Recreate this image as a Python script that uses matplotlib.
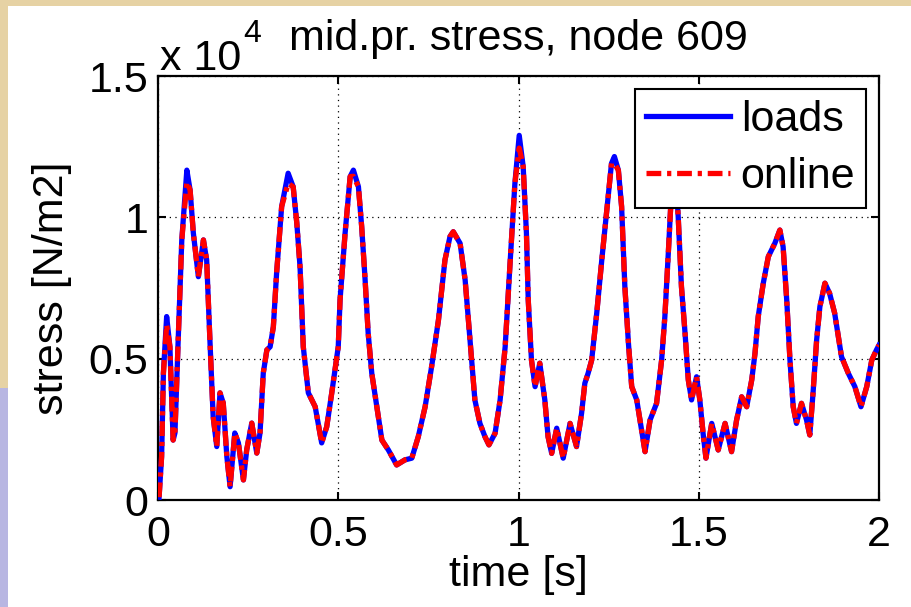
import matplotlib
matplotlib.use("Agg")
import matplotlib.pyplot as plt
from matplotlib.patches import Rectangle

plt.rcParams["font.family"] = ["Liberation Sans", "DejaVu Sans"]

# stress at node 609, N/m2
time_s = [
    0.003, 0.010, 0.015, 0.024, 0.033, 0.042, 0.047, 0.056, 0.066, 0.080,
    0.089, 0.098, 0.112, 0.126, 0.135, 0.144, 0.153, 0.163, 0.172, 0.181,
    0.191, 0.200, 0.213, 0.223, 0.237, 0.246, 0.260, 0.274, 0.283, 0.292,
    0.302, 0.311, 0.320, 0.329, 0.343, 0.361, 0.375, 0.385, 0.394, 0.403,
    0.417, 0.436, 0.454, 0.468, 0.482, 0.500, 0.505, 0.519, 0.533, 0.542,
    0.556, 0.565, 0.574, 0.583, 0.593, 0.607, 0.621, 0.639, 0.662, 0.685,
    0.704, 0.722, 0.741, 0.759, 0.778, 0.796, 0.810, 0.819, 0.838, 0.852,
    0.861, 0.870, 0.879, 0.893, 0.907, 0.918, 0.935, 0.949, 0.963, 0.976,
    0.990, 1.002, 1.013, 1.022, 1.027, 1.036, 1.046, 1.059, 1.073, 1.082,
    1.092, 1.106, 1.124, 1.143, 1.161, 1.175, 1.184, 1.193, 1.203, 1.217,
    1.231, 1.245, 1.258, 1.266, 1.277, 1.286, 1.295, 1.305, 1.314, 1.328,
    1.337, 1.351, 1.365, 1.383, 1.397, 1.406, 1.416, 1.425, 1.434, 1.443,
    1.452, 1.462, 1.471, 1.480, 1.494, 1.503, 1.512, 1.520, 1.536, 1.554,
    1.573, 1.591, 1.605, 1.619, 1.633, 1.647, 1.656, 1.665, 1.679, 1.693,
    1.711, 1.725, 1.734, 1.744, 1.753, 1.762, 1.771, 1.785, 1.799, 1.808,
    1.817, 1.827, 1.836, 1.850, 1.863, 1.877, 1.896, 1.915, 1.933, 1.950,
    1.966, 1.980, 1.993, 2.000,
]
loads = [
    100, 1530, 4490, 6490, 5420, 2120, 2370, 5660, 9200, 11670,
    10970, 9450, 7900, 9200, 8490, 5660, 2950, 1890, 3790, 3430,
    1530, 470, 2370, 2020, 710, 1770, 2720, 1660, 2370, 4490,
    5310, 5420, 6130, 8030, 10380, 11560, 11080, 9800, 8250, 5420,
    3790, 3300, 2020, 2590, 3790, 5420, 7080, 9440, 11440, 11670,
    11080, 9670, 7900, 5900, 4480, 3300, 2120, 1770, 1240, 1420,
    1480, 2240, 3300, 4720, 6370, 8490, 9320, 9490, 9080, 7780,
    6370, 4950, 3540, 2710, 2240, 1950, 2360, 3540, 5420, 8250,
    11200, 12900, 11790, 9440, 7080, 4950, 4010, 4840, 3540, 2240,
    1650, 2540, 1480, 2710, 1890, 3070, 4130, 4480, 4950, 6610,
    8490, 10260, 11910, 12150, 11670, 10380, 7550, 5540, 4010, 3540,
    2830, 1710, 2830, 3420, 4950, 6490, 8840, 11080, 12030, 10020,
    7550, 5900, 4250, 3540, 4360, 3540, 2360, 1480, 2710, 1770,
    2710, 1710, 2830, 3650, 3300, 4250, 5190, 6490, 7670, 8610,
    9080, 9550, 8960, 7080, 4950, 3300, 2710, 3420, 2830, 2300,
    3780, 5660, 6840, 7670, 7310, 6610, 5070, 4480, 4010, 3300,
    4010, 4950, 5310, 5480,
]
# the online estimate sits on top of the loads curve, a bit lower at some peaks
online_peaks = {0.024: 6200, 0.080: 11250, 0.361: 11200, 0.542: 11450,
                1.002: 12450, 1.266: 11900}
online = [online_peaks.get(t, v) for t, v in zip(time_s, loads)]

x_ticks = [0, 0.5, 1, 1.5, 2]
x_tick_labels = ["0", "0.5", "1", "1.5", "2"]
y_ticks = [0, 5000, 10000, 15000]
y_tick_labels = ["0", "0.5", "1", "1.5"]

W, H = 911, 607
fig = plt.figure(figsize=(W / 100, H / 100), dpi=100, facecolor="#e6d2a4")
# white MATLAB figure pasted on the slide background
fig.patches.append(Rectangle((8 / W, 0), 1, (H - 6) / H,
                             transform=fig.transFigure, facecolor="white",
                             edgecolor="none", zorder=-2))
fig.patches.append(Rectangle((0, 0), 8 / W, (H - 388) / H,
                             transform=fig.transFigure, facecolor="#b8b6e2",
                             edgecolor="none", zorder=-2))

ax = fig.add_axes([158 / W, (H - 500) / H, 721 / W, 424 / H])
ax.plot(time_s, loads, color="#0000ff", lw=3.8, label="loads", zorder=3)
ax.plot(time_s, online, color="#ff0000", lw=3.8, label="online", zorder=4,
        linestyle=(0, (2.8, 1.1, 0.8, 1.1)))

ax.set_xlim(0, 2)
ax.set_ylim(0, 15000)
ax.set_xticks(x_ticks)
ax.set_xticklabels(x_tick_labels)
ax.set_yticks(y_ticks)
ax.set_yticklabels(y_tick_labels)
ax.tick_params(direction="in", length=6, width=1.5, labelsize=31,
               top=True, right=True, pad=7)
ax.tick_params(axis="x", pad=11)
ax.grid(True, color="black", linestyle=(0, (1, 3.5)), lw=0.9)
for sp in ax.spines.values():
    sp.set_linewidth(1.6)

ax.set_title("mid.pr. stress, node 609", fontsize=31, pad=19)
ax.set_xlabel("time [s]", fontsize=31, labelpad=0)
ax.set_ylabel("stress [N/m2]", fontsize=31, labelpad=12)
ax.text(0.003, 1.015, "x 10", transform=ax.transAxes, fontsize=31,
        ha="left", va="baseline")
ax.text(0.118, 1.08, "4", transform=ax.transAxes, fontsize=23,
        ha="left", va="baseline")

leg = ax.legend(loc="upper right", fontsize=31, handlelength=1.95,
                handletextpad=0.25, borderaxespad=0.3, labelspacing=0.4,
                borderpad=0.25, fancybox=False, framealpha=1)
leg.get_frame().set_edgecolor("black")
leg.get_frame().set_linewidth(1.5)
leg.set_zorder(10)

fig.savefig("out.png", dpi=100, facecolor=fig.get_facecolor())
